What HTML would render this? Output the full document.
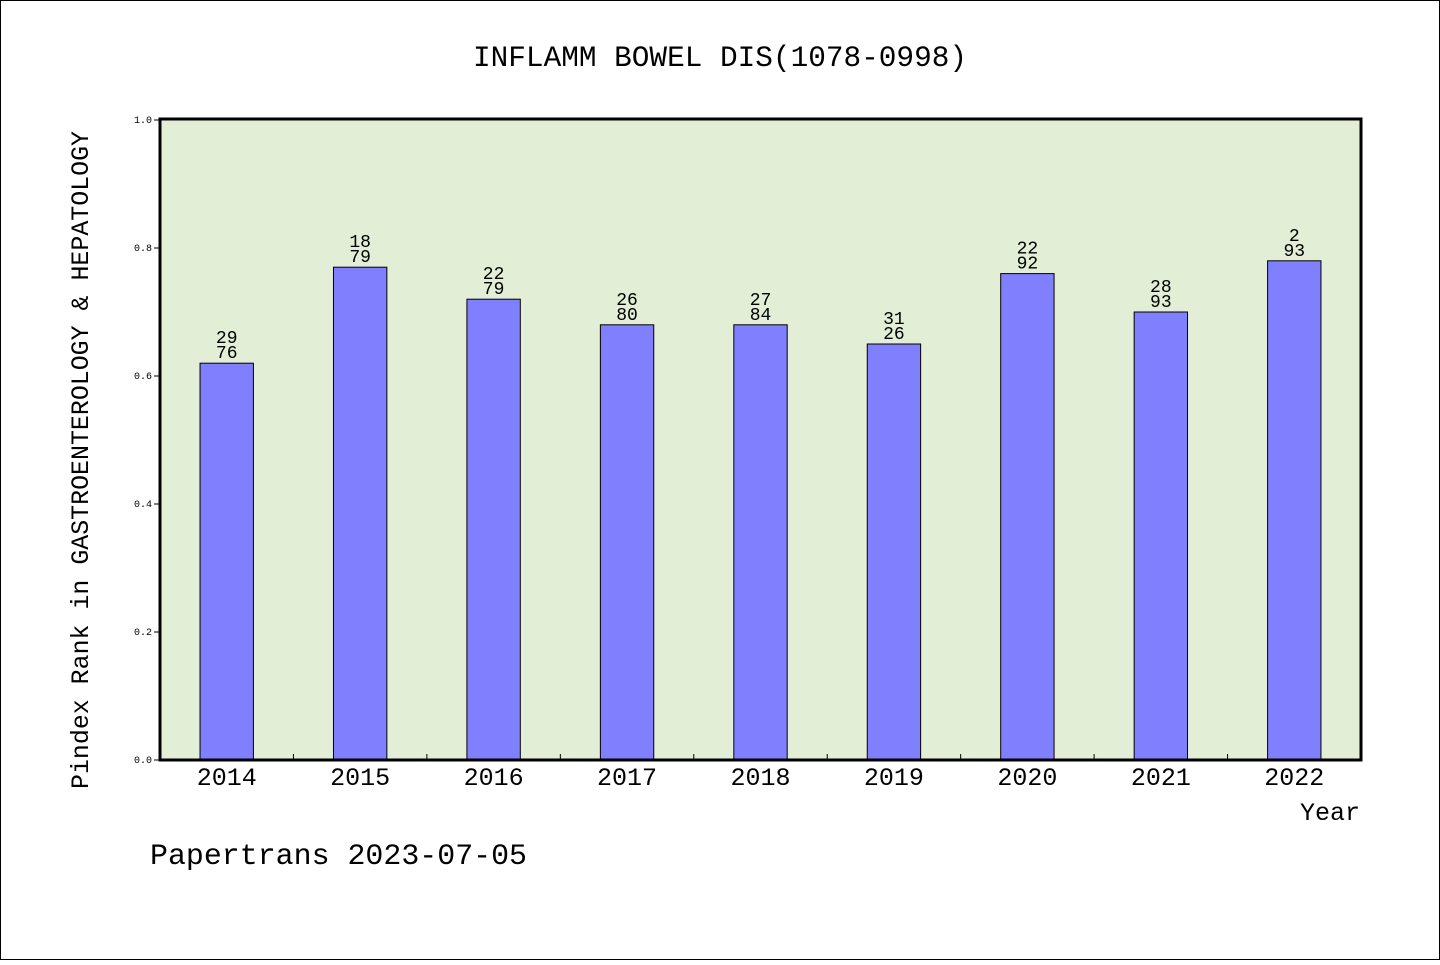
<!DOCTYPE html>
<html><head><meta charset="utf-8"><style>
body{margin:0;background:#fff;}
svg text{font-family:"WenQuanYi Zen Hei","Liberation Mono",monospace;}
</style></head><body>
<svg id="chart" width="1440" height="960" viewBox="0 0 1440 960" xmlns="http://www.w3.org/2000/svg">
<rect x="0.5" y="0.5" width="1439" height="959" fill="#fff" stroke="#000"/>
<text x="720" y="66" font-size="29.5" text-anchor="middle" textLength="494" lengthAdjust="spacingAndGlyphs">INFLAMM BOWEL DIS(1078-0998)</text>
<rect x="160" y="119" width="1201" height="641" fill="#e2efd6"/>
<g id="bars"></g>
<g id="axes"></g>
<rect x="160" y="119" width="1201" height="641" fill="none" stroke="#000" stroke-width="3"/>
<text transform="translate(88,460) rotate(-90)" font-size="25" text-anchor="middle" textLength="658" lengthAdjust="spacingAndGlyphs">Pindex Rank in GASTROENTEROLOGY &amp; HEPATOLOGY</text>
<text x="1360" y="820" font-size="25" text-anchor="end">Year</text>
<text x="150" y="864" font-size="30" textLength="377" lengthAdjust="spacingAndGlyphs">Papertrans 2023-07-05</text>
</svg>
<script>
const categories=["2014","2015","2016","2017","2018","2019","2020","2021","2022"];
const values=[0.62,0.77,0.72,0.68,0.68,0.65,0.76,0.70,0.78];
const ranks=["29","18","22","26","27","31","22","28","2"];
const totals=["76","79","79","80","84","26","92","93","93"];
const yTicks=[0,0.2,0.4,0.6,0.8,1.0];
const NS="http://www.w3.org/2000/svg";
const x0=160,x1=1361,y0=760,y1=120;
const band=(x1-x0)/categories.length;
const xc=i=>x0+band*(i+0.5);
const ys=v=>y0-(y0-y1)*v;
function mk(t,a,p){const e=document.createElementNS(NS,t);for(const k in a)e.setAttribute(k,a[k]);p.appendChild(e);return e;}
const bars=document.getElementById('bars'),axes=document.getElementById('axes');
categories.forEach((c,i)=>{
 const bw=band*0.4;
 const r=mk('rect',{x:xc(i)-bw/2,y:ys(values[i]),width:bw,height:y0-ys(values[i]),fill:'#8080ff',stroke:'#000','stroke-width':1},bars);
 
 
 const t1=mk('text',{x:xc(i),y:ys(values[i])-20,'font-size':18,'text-anchor':'middle'},bars);t1.textContent=ranks[i];
 
 
 const t2=mk('text',{x:xc(i),y:ys(values[i])-5,'font-size':18,'text-anchor':'middle'},bars);t2.textContent=totals[i];
 
 
 const xl=mk('text',{x:xc(i),y:785,'font-size':25,'text-anchor':'middle'},axes);xl.textContent=c;
 
 
 if(i>0){const tk=mk('line',{x1:x0+band*i,x2:x0+band*i,y1:y0,y2:y0-6,stroke:'#000'},axes);
 
 }
});
yTicks.forEach(v=>{
 const tk=mk('line',{x1:x0-6,x2:x0,y1:ys(v),y2:ys(v),stroke:'#000'},axes);
 
 
 const t=mk('text',{x:152,y:ys(v)+3,'font-size':10,'text-anchor':'end','font-family':'Liberation Sans, sans-serif'},axes);t.textContent=v.toFixed(1);
 
 
});
</script>
</body></html>
